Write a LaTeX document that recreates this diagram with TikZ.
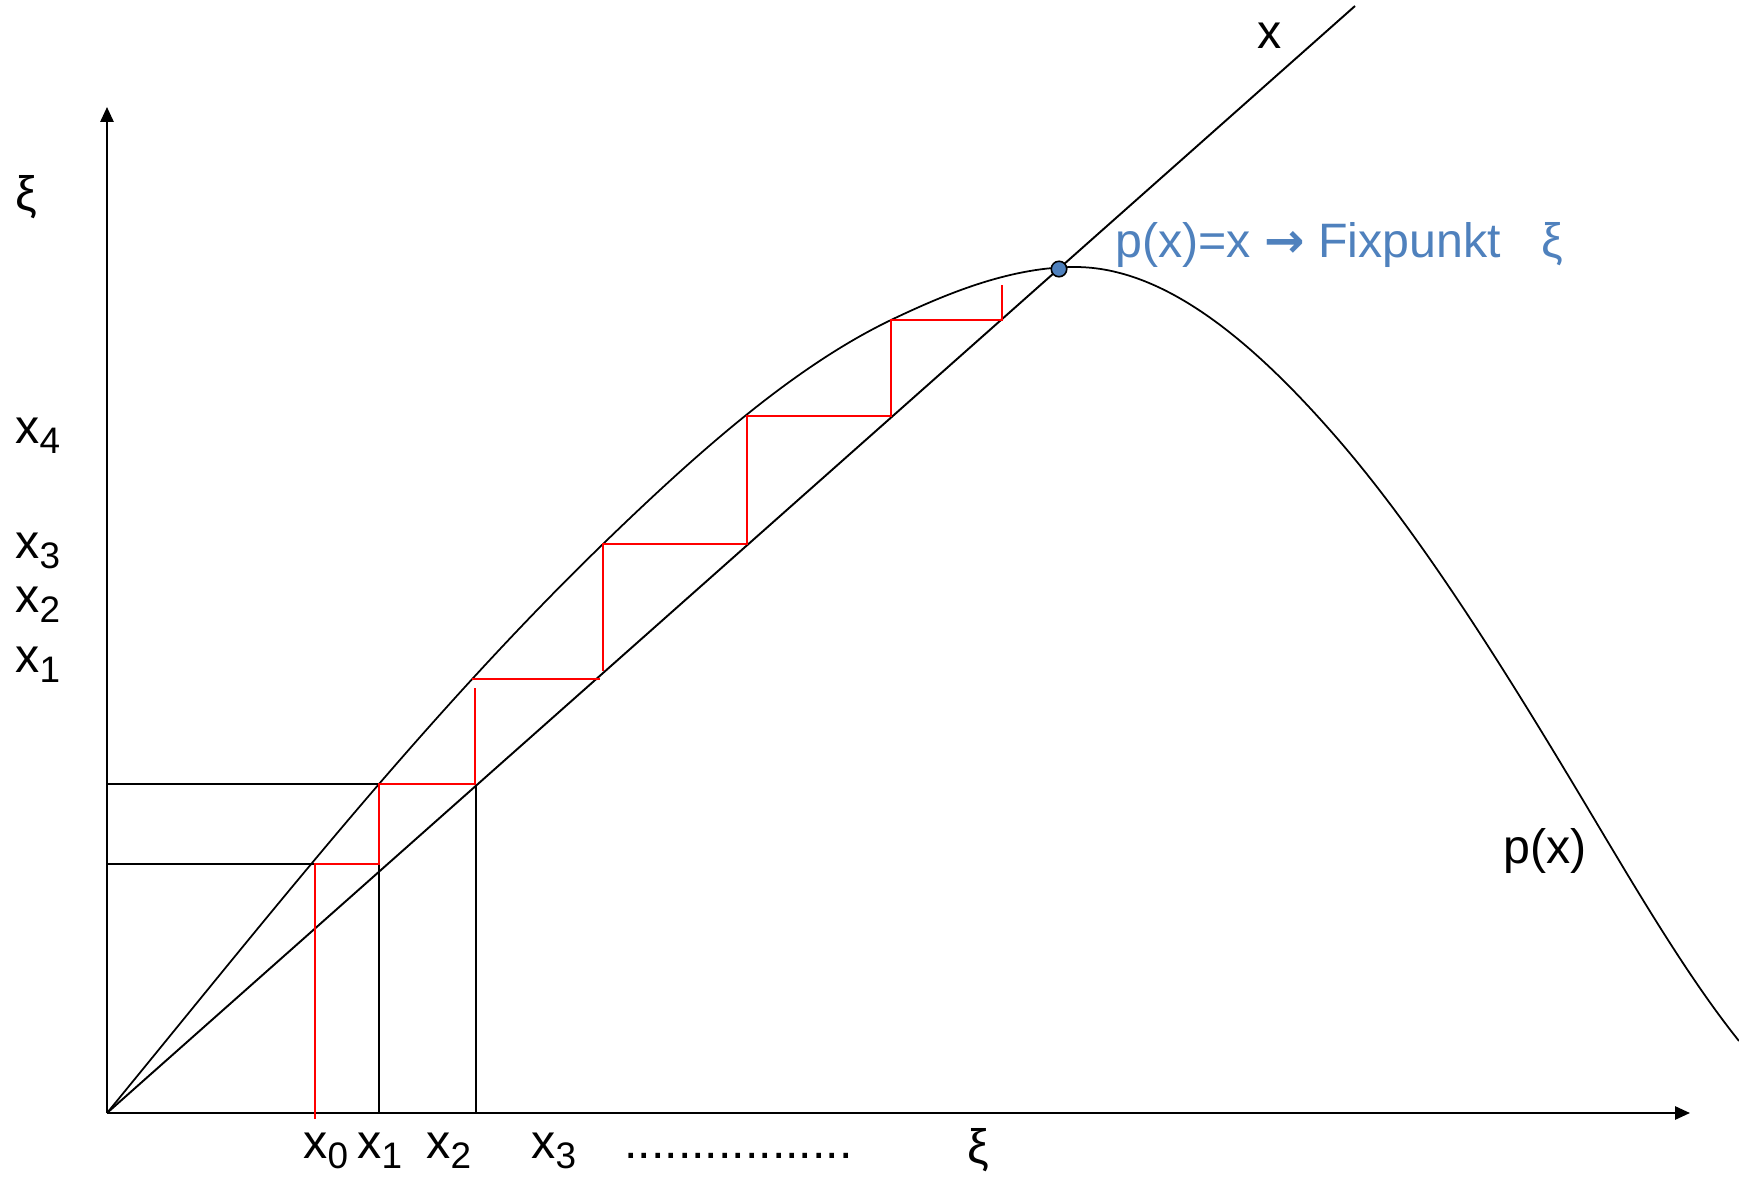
\documentclass[tikz,border=0pt]{standalone}
\usepackage{fontspec}
\setmainfont{Liberation Sans}
\newfontfamily\arrowfont{DejaVu Sans}
\usetikzlibrary{arrows.meta}
\definecolor{fixblue}{HTML}{4F81BD}
\newcommand\xsub[1]{x\raisebox{-6pt}{\fontsize{21}{21}\selectfont #1}}
\tikzset{
  axisline/.style={line width=1.2pt,-{Triangle[length=8.5pt,width=7.5pt]}},
  blackline/.style={line width=1.1pt,black},
  redline/.style={line width=1.2pt,red},
  curveline/.style={line width=1pt,black},
  lbl/.style={inner sep=0pt,anchor=base west,font=\fontsize{27.5}{32}\selectfont},
}
\begin{document}
\begin{tikzpicture}[x=0.02cm,y=-0.02cm]
\useasboundingbox (0,0) rectangle (1739,1180);
% named points
\coordinate (O) at (107,1113);
\coordinate (ytip) at (107,107);
\coordinate (xtip) at (1690,1113);
\coordinate (dtop) at (1355,6);
\coordinate (fix) at (1059,269);
% axes
\draw[axisline] (O) -- (ytip);
\draw[axisline] (O) -- (xtip);
% diagonal y = x
\draw[blackline] (O) -- (dtop);
% curve p(x)
\draw[curveline] (107,1113)
  .. controls (197.7,1002.4) and (288.3,889.2) .. (379,784)
  .. controls (453.7,697.4) and (528.3,616.4) .. (603,544)
  .. controls (699,450.9) and (795,366.1) .. (891,320)
  .. controls (952.3,290.6) and (1013.7,267) .. (1075,267)
  .. controls (1162,267) and (1249,337) .. (1336,437)
  .. controls (1423.7,537.8) and (1511.3,679.7) .. (1599,827)
  .. controls (1645.7,905.4) and (1692.3,982.7) .. (1739,1041);
% black guide lines
\draw[blackline] (107,784) -- (379,784);
\draw[blackline] (107,864) -- (315,864);
\draw[blackline] (379,864) -- (379,1113);
\draw[blackline] (476,784) -- (476,1113);
% red staircase
\draw[redline] (315,1119) -- (315,864) -- (379,864) -- (379,784) -- (475,784) -- (475,688);
\draw[redline] (472,679) -- (600,679);
\draw[redline] (603,671) -- (603,544) -- (747,544) -- (747,416) -- (891,416) -- (891,320) -- (1002,320) -- (1002,285);
% fixed point
\node[circle,draw=black,fill=fixblue,line width=0.9pt,inner sep=0pt,minimum size=0.31cm] (fp) at (fix) {};
% labels
\node[lbl] (xiy) at (15,210) {ξ};
\node[lbl] (y4) at (15,443) {\xsub{4}};
\node[lbl] (y3) at (15,558) {\xsub{3}};
\node[lbl] (y2) at (15,612) {\xsub{2}};
\node[lbl] (y1) at (15,672) {\xsub{1}};
\node[lbl] (b0) at (303,1158) {\xsub{0}};
\node[lbl] (b1) at (357,1158) {\xsub{1}};
\node[lbl] (b2) at (426,1158) {\xsub{2}};
\node[lbl] (b3) at (531,1158) {\xsub{3}};
\node[lbl] (dots) at (624,1158) {.................};
\node[lbl,anchor=base] (xib) at (978,1163) {ξ};
\node[lbl] (xtop) at (1257,48) {x};
\node[lbl] (px) at (1503,863) {p(x)};
\node[lbl,text=fixblue] (fixtxt) at (1115,257) {p(x)=x {\arrowfont\bfseries →} Fixpunkt\hspace{0.85em}ξ};
\end{tikzpicture}
\end{document}
